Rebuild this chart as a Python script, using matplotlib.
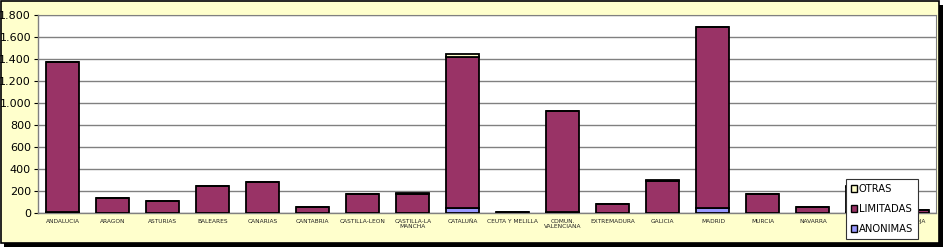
import matplotlib
matplotlib.use("Agg")
import matplotlib.pyplot as plt
from matplotlib.patches import Rectangle, Patch
import numpy as np

categories = ["ANDALUCIA", "ARAGON", "ASTURIAS", "BALEARES", "CANARIAS", "CANTABRIA",
              "CASTILLA-LEON", "CASTILLA-LA\nMANCHA", "CATALUÑA", "CEUTA Y MELILLA",
              "COMUN.\nVALENCIANA", "EXTREMADURA", "GALICIA", "MADRID", "MURCIA",
              "NAVARRA", "PAIS VASCO", "LA RIOJA"]
anonimas = [8, 3, 2, 3, 4, 1, 3, 4, 42, 2, 8, 2, 3, 42, 2, 1, 10, 1]
limitadas = [1365, 135, 108, 240, 275, 51, 170, 172, 1380, 10, 915, 80, 292, 1645, 174, 57, 230, 29]
otras = [2, 1, 1, 1, 5, 1, 1, 4, 22, 0, 2, 1, 1, 3, 1, 1, 2, 0]
yticks = [0, 200, 400, 600, 800, 1000, 1200, 1400, 1600, 1800]
ytick_labels = ["0", "200", "400", "600", "800", "1.000", "1.200", "1.400", "1.600", "1.800"]

c_anon = "#9999FF"
c_lim = "#993366"
c_otr = "#FFFFCC"
bg = "#FFFFCC"

fig = plt.figure(figsize=(9.44, 2.47), dpi=100)
fig.patch.set_facecolor("white")
# shadow + frame
fig.add_artist(Rectangle((4 / 944, 0), 939 / 944, 1 - 5 / 247, transform=fig.transFigure,
                         facecolor="black", edgecolor="none", zorder=-2))
fig.add_artist(Rectangle((1 / 944, 4 / 247), 938 / 944, 1 - 5 / 247, transform=fig.transFigure,
                         facecolor=bg, edgecolor="black", linewidth=1.2, zorder=-1))

ax = fig.add_axes([38 / 944, (247 - 213) / 247, (936 - 38) / 944, (213 - 15) / 247])
ax.set_facecolor("white")
x = np.arange(len(categories))
w = 0.66
a = np.array(anonimas)
l = np.array(limitadas)
o = np.array(otras)
ax.bar(x, a, w, color=c_anon, edgecolor="black", linewidth=1.3, zorder=3)
ax.bar(x, l, w, bottom=a, color=c_lim, edgecolor="black", linewidth=1.3, zorder=3)
ax.bar(x, o, w, bottom=a + l, color=c_otr, edgecolor="black", linewidth=1.3, zorder=3)

ax.set_xlim(-0.49, len(categories) - 0.54)
ax.set_ylim(0, 1800)
ax.set_yticks(yticks)
ax.set_yticklabels(ytick_labels, fontsize=8)
ax.set_xticks(x)
ax.set_xticklabels(categories, fontsize=4.2, linespacing=1.0, color="#222222")
ax.tick_params(axis="x", length=0, pad=4)
ax.tick_params(axis="y", length=3, pad=2, width=0.8)
ax.yaxis.grid(True, color="#808080", linewidth=1.0, zorder=0)
ax.set_axisbelow(True)
for s in ["top", "right"]:
    ax.spines[s].set_color("#808080")
    ax.spines[s].set_linewidth(0.8)
for s in ["left", "bottom"]:
    ax.spines[s].set_color("#808080")
    ax.spines[s].set_linewidth(1.0)

handles = [Patch(facecolor=c_otr, edgecolor="black", label="OTRAS"),
           Patch(facecolor=c_lim, edgecolor="black", label="LIMITADAS"),
           Patch(facecolor=c_anon, edgecolor="black", label="ANONIMAS")]
leg = fig.legend(handles=handles, loc="upper left",
                 bbox_to_anchor=(846 / 944, 1 - 179 / 247), fontsize=7.2,
                 frameon=True, fancybox=False, edgecolor="#333333", framealpha=1,
                 handlelength=0.6, handleheight=0.6, handletextpad=0.15,
                 labelspacing=1.0, borderpad=0.5, borderaxespad=0)
leg.get_frame().set_linewidth(0.8)
leg.set_zorder(10)

fig.savefig("out.png", dpi=100, facecolor=fig.get_facecolor())
